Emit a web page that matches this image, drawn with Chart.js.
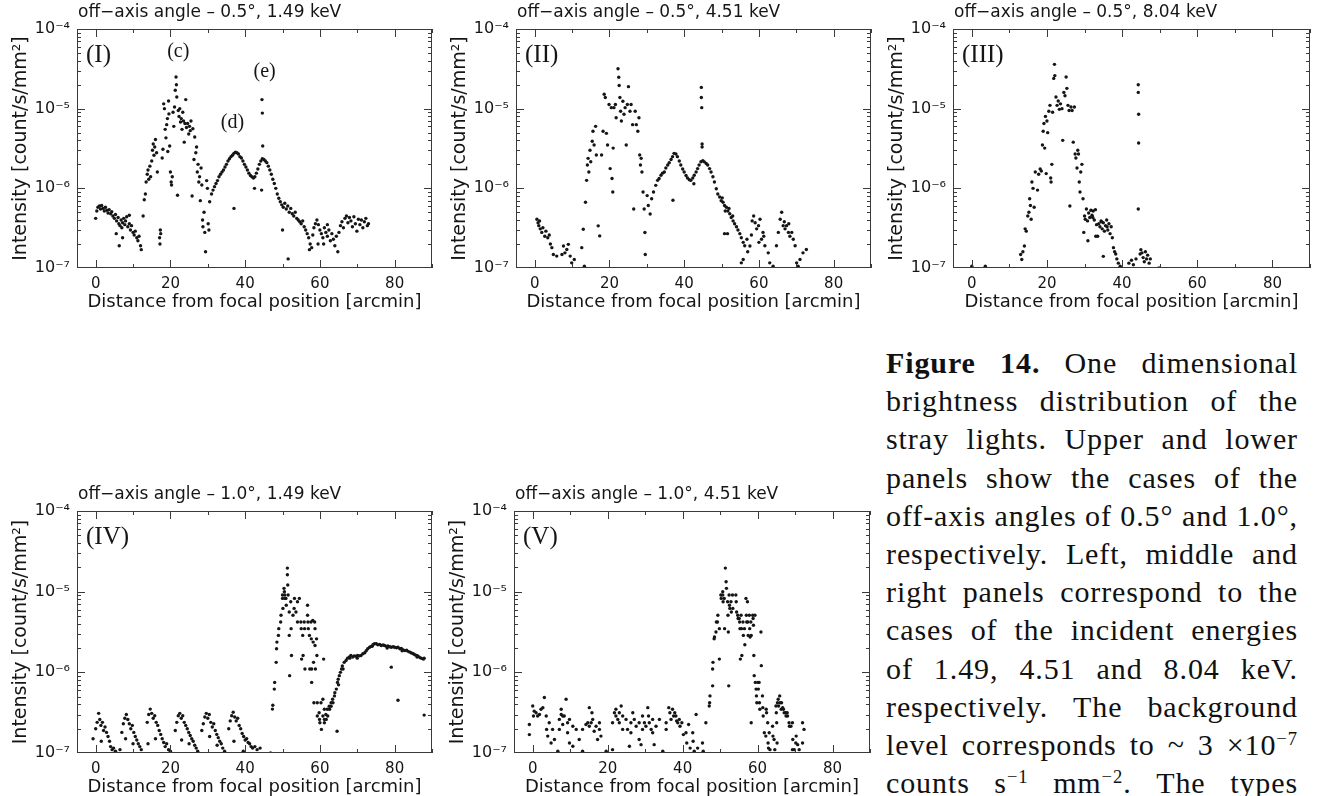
<!DOCTYPE html>
<html>
<head>
<meta charset="utf-8">
<script src="https://cdn.jsdelivr.net/npm/chart.js@4.4.0/dist/chart.umd.min.js"></script>
<style>
html, body { margin: 0; padding: 0; background: #fff; }
body { width: 1317px; height: 796px; position: relative; overflow: hidden; }
canvas { position: absolute; }
#caption { position: absolute; left: 886px; top: 344px; width: 412px; color: #111;
  font-family: "Liberation Serif", "DejaVu Serif", serif; font-size: 30px; line-height: 38.2px; letter-spacing: 0.9px; }
#caption div { display: flex; justify-content: space-between; white-space: nowrap; }
#caption sup { font-size: 0.62em; line-height: 0; vertical-align: 0; position: relative; top: -0.55em; }
</style>
</head>
<body>
<div id="caption"></div>
<script>
// tick labels
const xTicks = [0, 20, 40, 60, 80];
const yTicks = [1e-7, 1e-6, 1e-5, 1e-4];
const yTickText = ['10⁻⁷', '10⁻⁶', '10⁻⁵', '10⁻⁴'];

// (I) off-axis 0.5 deg, 1.49 keV  -- [arcmin, count/s/mm2]
const panel1 = [
  [0,4.2e-7],[0.3,5.2e-7],[0.6,5.8e-7],[1,6.0e-7],[1.3,5.5e-7],[1.6,6.1e-7],[2,5.6e-7],[2.3,5.2e-7],[2.6,5.8e-7],[3,5.3e-7],
  [3.3,4.9e-7],[3.6,5.4e-7],[4,4.8e-7],[4.3,5.1e-7],[4.6,4.5e-7],[5,4.2e-7],[5.3,4.7e-7],[5.6,3.9e-7],[6,4.3e-7],[6.2,3.6e-7],
  [6.5,3.4e-7],[6.8,4.0e-7],[7,3.2e-7],[7.2,3.7e-7],[7.5,4.2e-7],[7.8,3.5e-7],[8,3.9e-7],[8.3,4.4e-7],[8.6,3.3e-7],[9,3.6e-7],
  [9.3,3.0e-7],[9.6,3.4e-7],[10,2.8e-7],[10.3,2.6e-7],[10.6,2.9e-7],[11,2.4e-7],[11.3,2.2e-7],[11.6,2.5e-7],[12,1.9e-7],[12.2,1.7e-7],
  [6.3,1.9e-7],[7.2,2.4e-7],[5.5,2.7e-7],[9,4.6e-7],
  [12.7,4.5e-7],[13,7.2e-7],[13.3,8.5e-7],[13.5,1.2e-6],[13.8,1.5e-6],[14,1.7e-6],[14.2,1.3e-6],[14.5,1.9e-6],[14.7,1.4e-6],[15,2.2e-6],
  [15.2,3.0e-6],[15.4,3.6e-6],[15.6,2.6e-6],[15.8,3.3e-6],[16,4.1e-6],[16.3,2.8e-6],[16.5,1.6e-6],
  [17.1,2.4e-7],[17.2,2.0e-7],[17.3,3.0e-7],[17.4,2.7e-7],
  [17.8,2.4e-6],[18,3.1e-6],[18.2,1.15e-5],[18.4,1.0e-5],[18.6,5.5e-6],[18.8,4.3e-6],[19,6.3e-6],[19.2,7.5e-6],[19.3,2.9e-6],[19.5,1.25e-5],
  [19.6,8.6e-6],[19.8,3.4e-6],[20,1.6e-6],[20.2,1.2e-6],[20.3,1.1e-6],[20.5,1.4e-6],[20.7,9.0e-6],[20.9,6.0e-6],[21.1,1.05e-5],[21.3,1.7e-5],
  [21.5,2.5e-5],[21.6,2.0e-5],[21.7,1.4e-5],[21.9,8.2e-7],[22.1,9.5e-6],[22.3,8.0e-6],[22.5,1.0e-5],[22.7,6.8e-6],[22.9,7.5e-6],[23.1,5.5e-6],
  [23.3,9.0e-6],[23.5,7.0e-6],[23.7,3.8e-6],[23.9,6.5e-6],[24.1,1.3e-5],[24.3,5.8e-6],[24.6,6.5e-6],[24.9,4.8e-6],[25.1,6.0e-6],[25.3,5.3e-6],
  [25.5,7.0e-6],[25.8,8.0e-7],[26,5.6e-6],[26.3,2.3e-6],[26.5,4.4e-6],[26.8,2.8e-6],[27,3.3e-6],[27.2,1.6e-6],[27.4,2.0e-6],[27.6,1.2e-6],
  [27.8,1.4e-6],[28,7.0e-7],[28.2,1.8e-6],[28.4,1.1e-6],[28.6,4.0e-7],[28.7,3.3e-7],[29,5.0e-7],[29.2,2.8e-7],[29.4,1.6e-7],[29.7,1.25e-6],
  [29.9,1.0e-6],[30.1,3.6e-7],[30.3,3.0e-7],[30.5,6.8e-7],
  [31,8.5e-7],[31.4,9.5e-7],[31.8,1.05e-6],[32.2,1.15e-6],[32.6,1.25e-6],[33,1.4e-6],[33.4,1.5e-6],[33.8,1.6e-6],[34.2,1.7e-6],[34.6,1.85e-6],
  [35,2.0e-6],[35.4,2.2e-6],[35.8,2.35e-6],[36.2,2.5e-6],[36.6,2.6e-6],[37,2.75e-6],[37.4,2.85e-6],[37.8,2.8e-6],[38.2,2.7e-6],[38.6,2.5e-6],
  [39,2.4e-6],[39.4,2.2e-6],[39.8,2.0e-6],[40.2,1.85e-6],[40.6,1.7e-6],[41,1.55e-6],[41.4,1.45e-6],[41.8,1.4e-6],[42.2,1.35e-6],[42.6,1.4e-6],
  [43,1.55e-6],[43.4,1.75e-6],[43.8,2.0e-6],[44.2,2.2e-6],[44.6,2.35e-6],[45,2.3e-6],[45.4,2.2e-6],[45.8,2.1e-6],[46.2,1.9e-6],[46.6,1.7e-6],
  [47,1.5e-6],[47.4,1.3e-6],[47.8,1.15e-6],[48.2,1.0e-6],[48.6,8.5e-7],[49,7.5e-7],[49.4,6.8e-7],[49.8,6.2e-7],[50.2,5.8e-7],[50.6,6.5e-7],
  [51,5.5e-7],[51.4,6.0e-7],[51.8,5.0e-7],[52.2,5.6e-7],
  [44.5,1.3e-5],[44.6,8.8e-6],[44.7,3.4e-6],[42.5,1.0e-6],[44.4,9.5e-7],[37,5.6e-7],[51.5,1.3e-7],[50,3.0e-7],
  [52.6,4.8e-7],[53,4.5e-7],[53.4,5.0e-7],[53.8,4.2e-7],[54.2,4.0e-7],[54.6,3.8e-7],[55,3.6e-7],[55.4,3.9e-7],[55.8,3.3e-7],[56.2,3.0e-7],
  [56.6,2.7e-7],[57,2.4e-7],[57.4,2.0e-7],[57.8,1.8e-7],[58.1,2.6e-7],[58.4,3.2e-7],[58.8,3.6e-7],[59.2,4.0e-7],[59.6,3.5e-7],[60,3.0e-7],
  [60.4,2.7e-7],[60.8,2.4e-7],[61.2,3.2e-7],[61.6,2.8e-7],[62,2.5e-7],[62.4,3.0e-7],[62.8,2.2e-7],[63.2,2.7e-7],[63.6,2.3e-7],[64,1.9e-7],
  [64.4,2.5e-7],[64.8,1.6e-7],[65.1,2.8e-7],[65.5,3.4e-7],[65.9,3.8e-7],[66.3,3.2e-7],[66.7,4.2e-7],[67.1,4.5e-7],[67.5,3.7e-7],[67.9,4.3e-7],
  [68.3,3.9e-7],[68.7,3.3e-7],[69.1,4.4e-7],[69.5,3.6e-7],[69.9,2.9e-7],[70.3,4.1e-7],[70.7,3.5e-7],[71.1,4.0e-7],[71.5,3.2e-7],[71.9,3.8e-7],
  [72.3,4.2e-7],[72.7,3.4e-7],[73,3.6e-7],[59.5,2.0e-7],[61,2.0e-7],[57.2,1.7e-7],[62,3.5e-7]
];

// (II) off-axis 0.5 deg, 4.51 keV
const panel2 = [
  [0.6,4.1e-7],[0.9,3.7e-7],[1.1,3.4e-7],[1.3,3.9e-7],[1.5,3.1e-7],[1.9,2.8e-7],[2.2,3.2e-7],[2.7,2.5e-7],[3.0,2.9e-7],[3.5,2.4e-7],
  [3.9,2.6e-7],[4.2,2.0e-7],[4.6,1.8e-7],[5.0,1.48e-7],[5.9,1.41e-7],[7.3,1.48e-7],[7.7,1.89e-7],[8.1,1.55e-7],[8.6,1.71e-7],[9.0,1.98e-7],
  [9.5,1.41e-7],[9.9,1.16e-7],[10.6,1.28e-7],[12.6,1.8e-7],[13.0,3.07e-7],[13.3,1.05e-7],[13.6,6.7e-7],[13.9,1.26e-6],[14.1,1.96e-6],[14.3,2.38e-6],
  [14.5,1.6e-6],[14.8,3.0e-6],[15.0,2.16e-6],[15.4,3.9e-6],[15.6,5.2e-6],[15.9,3.5e-6],[16.3,6.0e-6],[16.5,2.62e-6],[17.0,3.38e-7],[17.4,2.53e-7],
  [17.9,2.62e-6],[18.3,5.2e-6],[18.6,1.52e-5],[18.9,1.38e-5],[19.2,4.9e-6],[19.5,3.5e-6],[19.9,1.13e-5],[20.2,1.77e-6],[20.5,1.03e-5],[20.7,1.33e-6],
  [20.9,9.0e-7],[21.0,3.2e-6],[21.2,1.03e-5],[21.6,1.13e-5],[21.8,7.7e-6],[22.3,3.17e-5],[22.5,2.48e-5],[22.6,1.95e-5],[22.8,1.38e-5],[23.0,9.3e-6],
  [23.2,7.0e-6],[23.6,1.24e-5],[23.9,8.5e-6],[24.2,1.03e-5],[24.5,3.5e-6],[24.8,1.13e-5],[25.1,1.89e-5],[25.5,9.3e-6],[25.8,1.13e-5],[26.2,6.3e-6],
  [26.5,5.5e-7],[26.9,9.3e-6],[27.2,6.3e-6],[27.6,5.2e-6],[27.9,7.7e-6],[28.1,2.62e-6],[28.3,1.96e-6],[28.5,2.38e-6],[28.7,1.6e-6],[29.0,9.0e-7],
  [29.3,5.5e-7],[29.5,2.79e-7],[29.6,1.48e-7],[30.1,8.1e-7],[30.4,6.1e-7],[30.9,4.76e-7],[31.3,7.4e-7],[31.8,9.0e-7],[32.4,1.09e-6],
  [32.9,1.26e-6],[33.3,1.33e-6],[33.8,1.46e-6],[34.2,1.55e-6],[34.7,1.6e-6],[35.1,1.8e-6],[35.6,1.96e-6],[36.0,2.1e-6],[36.5,2.3e-6],[36.9,2.5e-6],
  [37.3,2.75e-6],[37.8,2.7e-6],[38.2,2.5e-6],[38.7,2.2e-6],[39.1,1.96e-6],[39.6,1.75e-6],[40.0,1.6e-6],[40.5,1.45e-6],[40.9,1.35e-6],[41.4,1.28e-6],
  [41.8,1.26e-6],[42.3,1.35e-6],[42.7,1.46e-6],[43.2,1.6e-6],[43.6,1.77e-6],[44.0,1.96e-6],[44.5,2.16e-6],[45.0,2.22e-6],[45.4,2.15e-6],[45.9,2.05e-6],
  [46.3,1.96e-6],[46.8,1.77e-6],[47.2,1.6e-6],[47.7,1.4e-6],[48.1,1.2e-6],[48.6,9.9e-7],[49.0,8.5e-7],[49.5,7.8e-7],[49.9,7.0e-7],[50.4,6.7e-7],
  [50.8,6.1e-7],[51.3,5.8e-7],[51.7,5.2e-7],[52.2,4.8e-7],[52.6,4.3e-7],[53.1,3.9e-7],[53.5,3.6e-7],[54.0,3.3e-7],[54.4,3.0e-7],[54.9,2.7e-7],
  [55.3,2.4e-7],[55.8,2.1e-7],[56.2,1.9e-7],[50.2,7.6e-7],[51.0,5.2e-7],[52.0,5.6e-7],[53.0,4.5e-7],
  [44.6,1.85e-5],[44.6,1.38e-5],[44.7,1.03e-5],[44.8,3.6e-6],[44.8,3.3e-6],
  [37.0,7.1e-7],[42.6,1.14e-6],[50.8,2.7e-7],[51.6,2.7e-7],
  [55.3,1.16e-7],[55.8,1.28e-7],[56.8,2.3e-7],[57.6,1.89e-7],[58.2,3.9e-7],[58.6,4.5e-7],[59.0,3.7e-7],[59.4,3.1e-7],[59.9,3.4e-7],[60.3,4.1e-7],
  [60.7,2.3e-7],[61.1,2.8e-7],[61.6,1.9e-7],[62.5,1.55e-7],[62.9,1.16e-7],[63.8,1.05e-7],[57.0,1.6e-7],[58.0,2.6e-7],[60.0,2.1e-7],[61.3,2.5e-7],
  [64.7,1.9e-7],[65.2,2.8e-7],[65.7,4.1e-7],[66.1,5.0e-7],[66.5,3.4e-7],[67.0,3.1e-7],[67.4,3.4e-7],[67.9,2.8e-7],[68.3,2.5e-7],[68.8,2.8e-7],
  [69.2,2.3e-7],[69.7,1.9e-7],[70.1,1.16e-7],[70.5,1.05e-7],[71.0,1.28e-7],[71.8,1.55e-7],[72.7,1.71e-7],[66.8,3.8e-7],[68.0,3.6e-7]
];

// (III) off-axis 0.5 deg, 8.04 keV
const panel3 = [
  [0,1.05e-7],[3.6,1.05e-7],
  [13.0,1.48e-7],[13.3,1.28e-7],[13.6,1.6e-7],[14.0,1.89e-7],[14.2,3.1e-7],[14.5,2.9e-7],[14.9,4.5e-7],[15.2,5.0e-7],[15.4,7.4e-7],[15.6,6.1e-7],
  [15.8,4.1e-7],[16.0,1.2e-6],[16.3,1.0e-6],[16.6,5.8e-7],[16.9,1.6e-6],[17.5,9.5e-7],[17.8,1.5e-6],[18.2,1.75e-6],[18.5,1.65e-6],[18.8,3.5e-6],
  [19.0,5.2e-6],[19.2,6.5e-6],[19.4,3.2e-6],[19.6,8.0e-6],[19.8,1.53e-6],[20.0,7.0e-6],[20.2,5.0e-6],[20.5,9.3e-6],[20.8,1.1e-5],[21.0,1.35e-6],
  [21.1,1.2e-6],[21.3,2.0e-6],[21.5,9.0e-6],[21.8,2.4e-5],[22.0,3.6e-5],[22.1,2.6e-5],[22.4,1.4e-5],[22.7,1.1e-5],[23.0,1.25e-5],[23.3,9.8e-6],
  [23.6,1.15e-5],[24.0,1.0e-5],[24.2,4.0e-6],[24.5,1.6e-5],[24.8,1.45e-5],[25.1,2.5e-5],[25.3,1.8e-5],[25.6,1.1e-5],[25.9,9.5e-6],[26.1,6.0e-7],
  [26.4,1.05e-5],[26.7,9.5e-6],[27.0,3.8e-6],[27.3,1.05e-5],[27.5,2.7e-6],[27.7,2.4e-6],[28.0,1.8e-6],[28.2,3.0e-6],[28.4,2.7e-6],[28.6,1.2e-6],
  [28.8,9.0e-7],[29.0,1.6e-6],[29.3,2.0e-6],[29.6,7.4e-7],[29.8,2.8e-7],[30.0,4.5e-7],[30.2,4.1e-7],[30.5,5.5e-7],[30.8,3.9e-7],[31.1,4.9e-7],
  [31.4,4.3e-7],[31.7,5.3e-7],[32.0,4.6e-7],[32.3,5.2e-7],[32.6,4.0e-7],[32.9,5.4e-7],[33.2,3.5e-7],[33.5,2.5e-7],[33.8,3.6e-7],[34.1,3.3e-7],
  [34.4,3.9e-7],[34.7,3.1e-7],[35.0,3.7e-7],[35.3,2.9e-7],[35.6,3.4e-7],[35.9,4.0e-7],[36.2,3.0e-7],[36.5,3.6e-7],[36.8,2.7e-7],[37.1,3.3e-7],
  [37.4,2.4e-7],[37.7,1.8e-7],[38.0,1.6e-7],[38.3,1.5e-7],[38.6,1.3e-7],[39.0,1.15e-7],[39.5,1.05e-7],[30.9,2.2e-7],[33.0,2.5e-7],[35.0,1.4e-7],
  [32.2,4.3e-7],[34.5,3.8e-7],[36.0,3.3e-7],
  [44.3,2.0e-5],[44.3,1.6e-5],[44.4,8.5e-6],[44.4,3.7e-6],[44.3,5.5e-7],
  [41.8,1.15e-7],[42.5,1.25e-7],[43.0,1.1e-7],[43.7,1.3e-7],[44.8,1.5e-7],[45.0,1.7e-7],[45.3,1.55e-7],[45.6,1.35e-7],[45.9,1.2e-7],[46.2,1.6e-7],
  [46.5,1.3e-7],[46.8,1.45e-7],[47.2,1.15e-7],[47.5,1.3e-7],[49.8,1.0e-7]
];

// (IV) off-axis 1.0 deg, 1.49 keV
const panel4 = [
  [-0.7,1.5e-7],[0,2.0e-7],[0.4,2.4e-7],[0.8,3.1e-7],[1.1,2.6e-7],[1.4,2.2e-7],[1.8,2.4e-7],[2.1,1.9e-7],[2.5,2.1e-7],[2.9,1.8e-7],
  [3.3,1.6e-7],[3.7,1.4e-7],[4.0,1.2e-7],[4.4,1.1e-7],[4.8,1.15e-7],[5.3,1.05e-7],[1.5,1.4e-7],
  [7.0,1.8e-7],[7.4,2.3e-7],[7.8,2.7e-7],[8.2,3.0e-7],[8.6,2.6e-7],[9.0,2.3e-7],[9.4,2.0e-7],[9.8,2.2e-7],[10.2,1.8e-7],[10.6,1.6e-7],
  [11.0,1.45e-7],[11.4,1.3e-7],[11.8,1.2e-7],[12.2,1.1e-7],[8.0,1.5e-7],[6.5,1.1e-7],[10.0,1.3e-7],
  [13.8,2.4e-7],[14.2,3.0e-7],[14.6,3.5e-7],[15.0,3.1e-7],[15.4,2.7e-7],[15.8,2.9e-7],[16.2,2.4e-7],[16.6,2.2e-7],[17.0,1.9e-7],[17.4,1.7e-7],
  [17.8,1.5e-7],[18.2,1.35e-7],[18.6,1.2e-7],[19.0,1.3e-7],[19.5,1.1e-7],[20.0,1.05e-7],[16.0,1.5e-7],[14.0,1.3e-7],
  [21.3,1.9e-7],[21.7,2.4e-7],[22.1,2.9e-7],[22.5,3.1e-7],[22.9,2.7e-7],[23.3,2.9e-7],[23.7,2.4e-7],[24.1,2.2e-7],[24.5,2.0e-7],[24.9,1.8e-7],
  [25.3,1.65e-7],[25.7,1.5e-7],[26.1,1.4e-7],[26.5,1.25e-7],[26.9,1.15e-7],[27.3,1.05e-7],[23.0,1.45e-7],[25.0,1.3e-7],
  [28.4,1.9e-7],[28.8,2.3e-7],[29.2,2.8e-7],[29.6,3.1e-7],[30.0,2.7e-7],[30.4,3.0e-7],[30.8,2.4e-7],[31.2,2.1e-7],[31.6,2.3e-7],[32.0,1.9e-7],
  [32.4,1.7e-7],[32.8,1.55e-7],[33.2,1.4e-7],[33.6,1.3e-7],[34.0,1.15e-7],[34.5,1.05e-7],[30.5,1.6e-7],[32.5,1.25e-7],
  [35.6,2.0e-7],[36.0,2.5e-7],[36.4,2.9e-7],[36.8,3.2e-7],[37.2,2.8e-7],[37.6,2.5e-7],[38.0,2.7e-7],[38.4,2.2e-7],[38.8,2.0e-7],[39.2,1.75e-7],
  [39.6,1.6e-7],[40.0,1.45e-7],[40.4,1.5e-7],[40.8,1.35e-7],[41.2,1.3e-7],[41.6,1.2e-7],[42.0,1.15e-7],[42.6,1.2e-7],[43.2,1.1e-7],[44.0,1.15e-7],
  [37.0,1.4e-7],[39.5,1.05e-7],
  [46.8,1.0e-7],[47.3,3.5e-7],[47.4,3.9e-7],[47.8,6.2e-7],[47.9,7.5e-7],[48.3,1.33e-6],[48.4,1.96e-6],[48.5,2.37e-6],[48.9,2.87e-6],[49.0,3.48e-6],
  [49.5,4.2e-6],[49.6,5.1e-6],[50.0,9.1e-6],[50.0,8.25e-6],[50.1,6.2e-6],[50.4,1.1e-5],[50.5,1.0e-5],[50.6,9.1e-6],[50.7,8.25e-6],[50.9,8.25e-6],
  [51.0,6.8e-6],[51.3,1.96e-5],[51.3,1.62e-5],[51.4,1.21e-5],[51.5,9.1e-6],[51.8,5.6e-6],[51.8,2.87e-6],[51.9,9.1e-7],[52.2,7.5e-6],[52.3,3.48e-6],
  [52.4,1.62e-6],[52.8,5.1e-6],[53.1,6.2e-6],[53.2,8.25e-6],[53.6,5.6e-6],[54.0,7.5e-6],[54.0,4.2e-6],[54.5,8.25e-6],[54.9,4.2e-6],[55.0,3.48e-6],
  [55.1,1.46e-6],[55.4,2.87e-6],[55.5,1.62e-6],[55.8,4.2e-6],[55.9,3.48e-6],[56.0,1.1e-6],[56.7,6.8e-6],[56.7,5.1e-6],[56.8,4.2e-6],[56.9,3.48e-6],
  [57.2,2.87e-6],[57.3,1.1e-6],[57.6,4.2e-6],[57.7,2.6e-6],[57.8,1.1e-6],[57.8,7.5e-7],[58.1,4.4e-6],[58.2,2.37e-6],[58.3,1.33e-6],[58.4,4.2e-7],
  [58.6,4.2e-6],[58.7,3.48e-6],[58.7,2.15e-6],[58.8,1.1e-6],[59.1,2.6e-6],[59.2,1.62e-6],[59.3,4.2e-7],[59.3,2.87e-7],[59.8,3.16e-7],[59.9,2.61e-7],
  [60.0,2.37e-7],[60.3,4.2e-7],[60.4,1.96e-7],[60.8,4.64e-7],[60.8,2.87e-7],[61.0,1.46e-6],[61.2,2.37e-7],[61.2,2.61e-7],[61.2,3.48e-7],
  [61.6,3.0e-7],[61.7,2.61e-7],[62.0,3.48e-7],[62.1,2.87e-7],[62.5,3.8e-7],[62.6,3.48e-7],[63.0,4.2e-7],[63.0,3.8e-7],[63.4,4.64e-7],[63.5,4.2e-7],
  [63.9,5.1e-7],[64.0,5.6e-7],[64.4,6.2e-7],[64.7,7.5e-7],[64.9,8.2e-7],[65.2,9.1e-7],[65.5,1.0e-6],[65.8,1.1e-6],[66.0,1.2e-6],[66.5,1.33e-6],
  [67.0,1.4e-6],[67.4,1.5e-6],[67.9,1.55e-6],[68.3,1.62e-6],[68.8,1.55e-6],[69.2,1.6e-6],[69.7,1.58e-6],[70.1,1.62e-6],[70.6,1.6e-6],[71.0,1.62e-6],
  [71.5,1.7e-6],[72.0,1.75e-6],[72.4,1.85e-6],[72.8,1.96e-6],[73.3,2.05e-6],[73.7,2.1e-6],[74.2,2.2e-6],[74.6,2.26e-6],[75.1,2.26e-6],[75.5,2.2e-6],
  [76.0,2.22e-6],[76.4,2.15e-6],[76.9,2.18e-6],[77.3,2.15e-6],[77.8,2.1e-6],[78.2,2.12e-6],[78.7,2.08e-6],[79.1,2.05e-6],[79.6,2.08e-6],[80.0,2.05e-6],
  [80.5,2.02e-6],[80.9,2.05e-6],[81.4,1.96e-6],[81.8,1.98e-6],[82.3,1.9e-6],[82.7,1.86e-6],[83.2,1.88e-6],[83.6,1.82e-6],[84.1,1.78e-6],[84.5,1.74e-6],
  [85.0,1.7e-6],[85.4,1.65e-6],[85.9,1.62e-6],[86.3,1.58e-6],[86.8,1.52e-6],[87.2,1.49e-6],[87.7,1.46e-6],[87.9,1.5e-6],
  [65.0,7.0e-7],[66.2,1.1e-6],[68.0,1.5e-6],[70.0,1.5e-6],[74.0,2.1e-6],[78.0,2.0e-6],[82.0,1.85e-6],[86.0,1.55e-6],
  [64.6,1.86e-7],[79.1,1.16e-6],[80.9,4.5e-7],[87.9,2.95e-7]
];

// (V) off-axis 1.0 deg, 4.51 keV
const panel5 = [
  [-0.9,2.26e-7],[-0.9,1.69e-7],[0,3.83e-7],[0.2,2.87e-7],[0.4,3.3e-7],[0.9,3.16e-7],[1.3,2.87e-7],[1.8,3.0e-7],[2.2,3.48e-7],[2.7,3.65e-7],
  [3.1,4.87e-7],[3.6,2.87e-7],[3.7,1.96e-7],[4.0,1.62e-7],[4.4,2.37e-7],[4.9,1.33e-7],[5.3,1.96e-7],[5.8,1.47e-7],[6.7,1.05e-7],[7.1,2.61e-7],
  [7.1,1.96e-7],[7.6,3.48e-7],[7.6,3.0e-7],[8.0,2.87e-7],[8.0,2.26e-7],[8.4,2.87e-7],[8.9,4.64e-7],[9.3,2.37e-7],[9.3,1.78e-7],[9.8,2.61e-7],
  [9.8,1.33e-7],[10.7,2.15e-7],[10.7,1.21e-7],[11.6,1.96e-7],[12.4,1.47e-7],[13.3,1.96e-7],[13.3,1.05e-7],[14.2,2.26e-7],[14.7,2.37e-7],[15.1,3.65e-7],
  [15.1,2.15e-7],[15.6,2.37e-7],[15.8,3.16e-7],[16.0,2.61e-7],[16.4,1.86e-7],[16.9,2.15e-7],[17.3,1.47e-7],[17.8,2.37e-7],[17.8,1.96e-7],[18.2,1.62e-7],
  [19.6,1.05e-7],[21.3,2.37e-7],[21.3,1.1e-7],[21.8,3.16e-7],[22.2,3.48e-7],[22.2,2.87e-7],[22.7,2.61e-7],[23.1,3.16e-7],[23.1,2.37e-7],[23.6,3.83e-7],
  [24.0,2.87e-7],[24.0,1.96e-7],[24.9,2.61e-7],[25.3,1.96e-7],[25.8,1.21e-7],[26.2,2.37e-7],[26.2,1.78e-7],[26.7,3.16e-7],[27.1,2.61e-7],[27.6,2.15e-7],
  [28.4,2.37e-7],[28.4,1.47e-7],[28.9,1.27e-7],[29.3,2.87e-7],[29.3,1.96e-7],[29.8,2.37e-7],[30.2,2.15e-7],[30.7,3.65e-7],[30.9,2.87e-7],[31.1,2.37e-7],
  [31.6,1.96e-7],[32.0,2.61e-7],[32.0,1.78e-7],[32.4,1.27e-7],[32.9,2.15e-7],[33.8,2.61e-7],[34.7,1.05e-7],[35.6,2.37e-7],[35.6,1.96e-7],[36.3,3.65e-7],
  [36.6,3.16e-7],[36.9,2.61e-7],[37.3,3.48e-7],[37.6,2.87e-7],[37.9,3.16e-7],[38.2,2.87e-7],[38.4,2.5e-7],[38.7,2.37e-7],[39.1,2.61e-7],[39.3,2.15e-7],
  [39.8,2.37e-7],[40.2,1.69e-7],[40.9,1.78e-7],[41.1,1.33e-7],[41.6,2.26e-7],[42.0,1.15e-7],[42.7,1.78e-7],[42.8,1.4e-7],[43.1,1.05e-7],[43.6,3.0e-7],
  [44.0,1.15e-7],[45.3,1.33e-7],[45.5,1.05e-7],[46.2,2.37e-7],
  [47.1,3.83e-7],[47.2,4.2e-7],[47.3,5.1e-7],[48.0,6.8e-7],[48.0,1.1e-6],[48.1,1.33e-6],[48.4,2.6e-6],[48.5,2.74e-6],[48.9,3.16e-6],[49.0,4.2e-6],
  [49.3,4.2e-6],[49.4,5.1e-6],[49.8,1.46e-6],[49.8,3.48e-6],[50.2,9.1e-6],[50.3,8.25e-6],[50.7,1.0e-5],[50.7,9.1e-6],[50.8,7.5e-6],[51.1,8.25e-6],
  [51.2,3.48e-6],[51.4,1.96e-5],[51.6,1.33e-5],[51.7,1.1e-5],[52.0,7.5e-6],[52.1,5.1e-6],[52.2,3.16e-6],[52.3,6.8e-7],[52.4,9.1e-6],[52.5,6.8e-6],
  [52.6,6.2e-6],[52.9,7.5e-6],[53.0,5.6e-6],[53.3,9.1e-6],[53.4,6.2e-6],[54.2,9.1e-6],[54.3,7.5e-6],[54.4,5.6e-6],[54.7,5.1e-6],[54.8,4.64e-6],
  [55.1,4.64e-6],[55.2,4.2e-6],[55.3,3.48e-6],[55.4,1.46e-6],[55.6,5.1e-6],[55.7,3.48e-6],[55.8,1.62e-6],[56.1,4.2e-6],[56.2,2.87e-6],[56.5,3.48e-6],
  [56.6,2.2e-6],[56.9,8.25e-6],[57.0,5.1e-6],[57.1,4.2e-6],[57.3,7.5e-6],[57.4,4.2e-6],[57.5,2.87e-6],[57.8,5.1e-6],[57.9,3.48e-6],[58.0,2.74e-6],
  [58.2,4.2e-6],[58.3,2.87e-6],[58.3,2.37e-7],[58.7,5.1e-6],[58.8,4.64e-6],[58.9,3.83e-6],[59.0,1.62e-6],[59.1,9.1e-7],[59.3,5.1e-6],[59.4,7.5e-7],
  [59.6,6.2e-7],[59.7,5.1e-7],[59.8,4.2e-7],[60.1,7.5e-7],[60.2,6.2e-7],[60.4,7.5e-7],[60.5,4.2e-7],[60.6,3.48e-7],[60.9,3.16e-6],[61.0,1.21e-6],
  [61.3,5.1e-7],[61.4,3.65e-7],[61.5,2.87e-7],[61.8,1.78e-7],[62.2,1.62e-7],[62.3,3.48e-7],[62.4,3.16e-7],[62.7,2.37e-7],[62.8,1.33e-7],[62.9,1.15e-7],
  [63.1,1.78e-7],[63.3,1.1e-7],[64.0,2.15e-7],[64.1,1.62e-7],[64.4,1.47e-7],[64.6,1.1e-7],[64.9,3.83e-7],[65.0,3.16e-7],[65.1,2.37e-7],[65.2,1.33e-7],
  [65.3,4.2e-7],[65.5,4.64e-7],[65.6,3.83e-7],[65.9,5.1e-7],[66.0,4.2e-7],[66.3,3.48e-7],[66.4,4.2e-7],[66.7,3.65e-7],[66.9,3.48e-7],[67.1,3.16e-7],
  [67.5,3.16e-7],[67.6,2.87e-7],[67.9,3.16e-7],[68.0,2.87e-7],[68.4,2.37e-7],[68.5,2.15e-7],[68.9,2.15e-7],[69.3,2.37e-7],[69.3,1.1e-7],[69.4,1.47e-7],
  [69.8,1.1e-7],[70.2,1.33e-7],[70.3,1.62e-7],[70.7,1.27e-7],[71.1,1.1e-7],[72.0,2.37e-7],[72.0,1.33e-7],[72.4,1.96e-7]
];

// letters written inside panel (I), placed at data coordinates
const notes1 = [
  { text: '(c)', x: 22.1, y: 4.4e-5 },
  { text: '(e)', x: 45.2, y: 2.5e-5 },
  { text: '(d)', x: 36.6, y: 5.7e-6 }
];

const captionLines = [
  '<b>Figure</b> <b>14.</b> One dimensional',
  'brightness distribution of the',
  'stray lights. Upper and lower',
  'panels show the cases of the',
  'off-axis angles of 0.5° and 1.0°,',
  'respectively. Left, middle and',
  'right panels correspond to the',
  'cases of the incident energies',
  'of 1.49, 4.51 and 8.04 keV.',
  'respectively. The background',
  'level corresponds to ~ 3 ×10<sup>−7</sup>',
  'counts s<sup>−1</sup> mm<sup>−2</sup>. The types'
];

const cap = document.getElementById('caption');
captionLines.forEach(line => {
  const row = document.createElement('div');
  row.innerHTML = line.split(' ').map(w => '<span>' + w + '</span>').join('');
  cap.appendChild(row);
});

const ink = '#151515';
const sans = '"DejaVu Sans", sans-serif';
const serif = '"Liberation Serif", "DejaVu Serif", serif';

const framePlugin = {
  id: 'frame',
  afterDraw(chart, args, opts) {
    const { ctx, chartArea: a, scales: { x, y } } = chart;
    ctx.save();
    ctx.strokeStyle = '#3a3a3a';
    ctx.lineWidth = 1;
    ctx.strokeRect(a.left + 0.5, a.top + 0.5, a.width - 1, a.height - 1);
    ctx.beginPath();
    for (let v = 0; v <= 90; v += 10) {
      const px = Math.round(x.getPixelForValue(v)) + 0.5;
      const len = v % 20 === 0 ? 8 : 4;
      ctx.moveTo(px, a.bottom); ctx.lineTo(px, a.bottom - len);
      ctx.moveTo(px, a.top); ctx.lineTo(px, a.top + len);
    }
    for (let d = -7; d < -4; d++) {
      for (let m = 1; m < 10; m++) {
        if (d === -7 && m === 1) continue;
        const py = Math.round(y.getPixelForValue(m * Math.pow(10, d))) + 0.5;
        const len = m === 1 ? 8 : 4;
        ctx.moveTo(a.left, py); ctx.lineTo(a.left + len, py);
        ctx.moveTo(a.right, py); ctx.lineTo(a.right - len, py);
      }
    }
    ctx.stroke();

    ctx.fillStyle = ink;
    ctx.textBaseline = 'alphabetic';
    ctx.textAlign = 'left';
    ctx.font = '17px ' + sans;
    ctx.fillText(opts.title, a.left + 1, a.top - 12);

    ctx.font = '25px ' + serif;
    ctx.fillText(opts.tag, a.left + 9, a.top + 33);

    ctx.font = '20px ' + serif;
    ctx.textAlign = 'center';
    (opts.notes || []).forEach(n => {
      ctx.fillText(n.text, x.getPixelForValue(n.x), y.getPixelForValue(n.y));
    });
    ctx.restore();
  }
};

const panels = [
  { data: panel1, title: 'off−axis angle – 0.5°, 1.49 keV', tag: '(I)', notes: notes1, left: 0, top: 0, width: 440, plotH: 239 },
  { data: panel2, title: 'off−axis angle – 0.5°, 4.51 keV', tag: '(II)', notes: [], left: 439, top: 0, width: 440, plotH: 239 },
  { data: panel3, title: 'off−axis angle – 0.5°, 8.04 keV', tag: '(III)', notes: [], left: 876, top: 0, width: 442, plotH: 239 },
  { data: panel4, title: 'off−axis angle – 1.0°, 1.49 keV', tag: '(IV)', notes: [], left: 0, top: 482, width: 440, plotH: 242 },
  { data: panel5, title: 'off−axis angle – 1.0°, 4.51 keV', tag: '(V)', notes: [], left: 437, top: 482, width: 441, plotH: 242 }
];

const xAxisH = 45;

panels.forEach(p => {
  const cv = document.createElement('canvas');
  cv.width = p.width;
  cv.height = 29 + p.plotH + xAxisH;
  cv.style.left = p.left + 'px';
  cv.style.top = p.top + 'px';
  document.body.appendChild(cv);

  new Chart(cv, {
    type: 'scatter',
    data: {
      datasets: [{
        data: p.data.map(([x, y]) => ({ x, y })),
        backgroundColor: ink,
        borderWidth: 0,
        pointRadius: 1.7,
        pointHoverRadius: 1.7
      }]
    },
    options: {
      responsive: false,
      animation: false,
      devicePixelRatio: 1,
      events: [],
      layout: { padding: { top: 29, right: 8, left: 0, bottom: 0 } },
      plugins: {
        legend: { display: false },
        tooltip: { enabled: false },
        frame: { title: p.title, tag: p.tag, notes: p.notes }
      },
      scales: {
        x: {
          type: 'linear', min: -5, max: 90,
          afterBuildTicks: s => { s.ticks = xTicks.map(v => ({ value: v })); },
          afterFit: s => { s.height = xAxisH; },
          grid: { display: false, drawTicks: false },
          border: { display: false },
          ticks: { color: ink, font: { family: sans, size: 15 }, padding: 7, maxRotation: 0, autoSkip: false },
          title: { display: true, text: 'Distance from focal position [arcmin]', color: ink,
                   font: { family: sans, size: 18 }, padding: { top: 0, bottom: 0 } }
        },
        y: {
          type: 'logarithmic', min: 1e-7, max: 1e-4,
          afterBuildTicks: s => { s.ticks = yTicks.map(v => ({ value: v })); },
          afterFit: s => { s.width = 77; },
          grid: { display: false, drawTicks: false },
          border: { display: false },
          ticks: {
            color: ink, font: { family: sans, size: 16 }, padding: 7, autoSkip: false,
            callback: v => yTickText[yTicks.findIndex(t => Math.abs(t - v) / t < 1e-6)] || ''
          },
          title: { display: true, text: 'Intensity [count/s/mm²]', color: ink,
                   font: { family: sans, size: 19 }, padding: { top: 10, bottom: 0 } }
        }
      }
    },
    plugins: [framePlugin]
  });
});
</script>
</body>
</html>
